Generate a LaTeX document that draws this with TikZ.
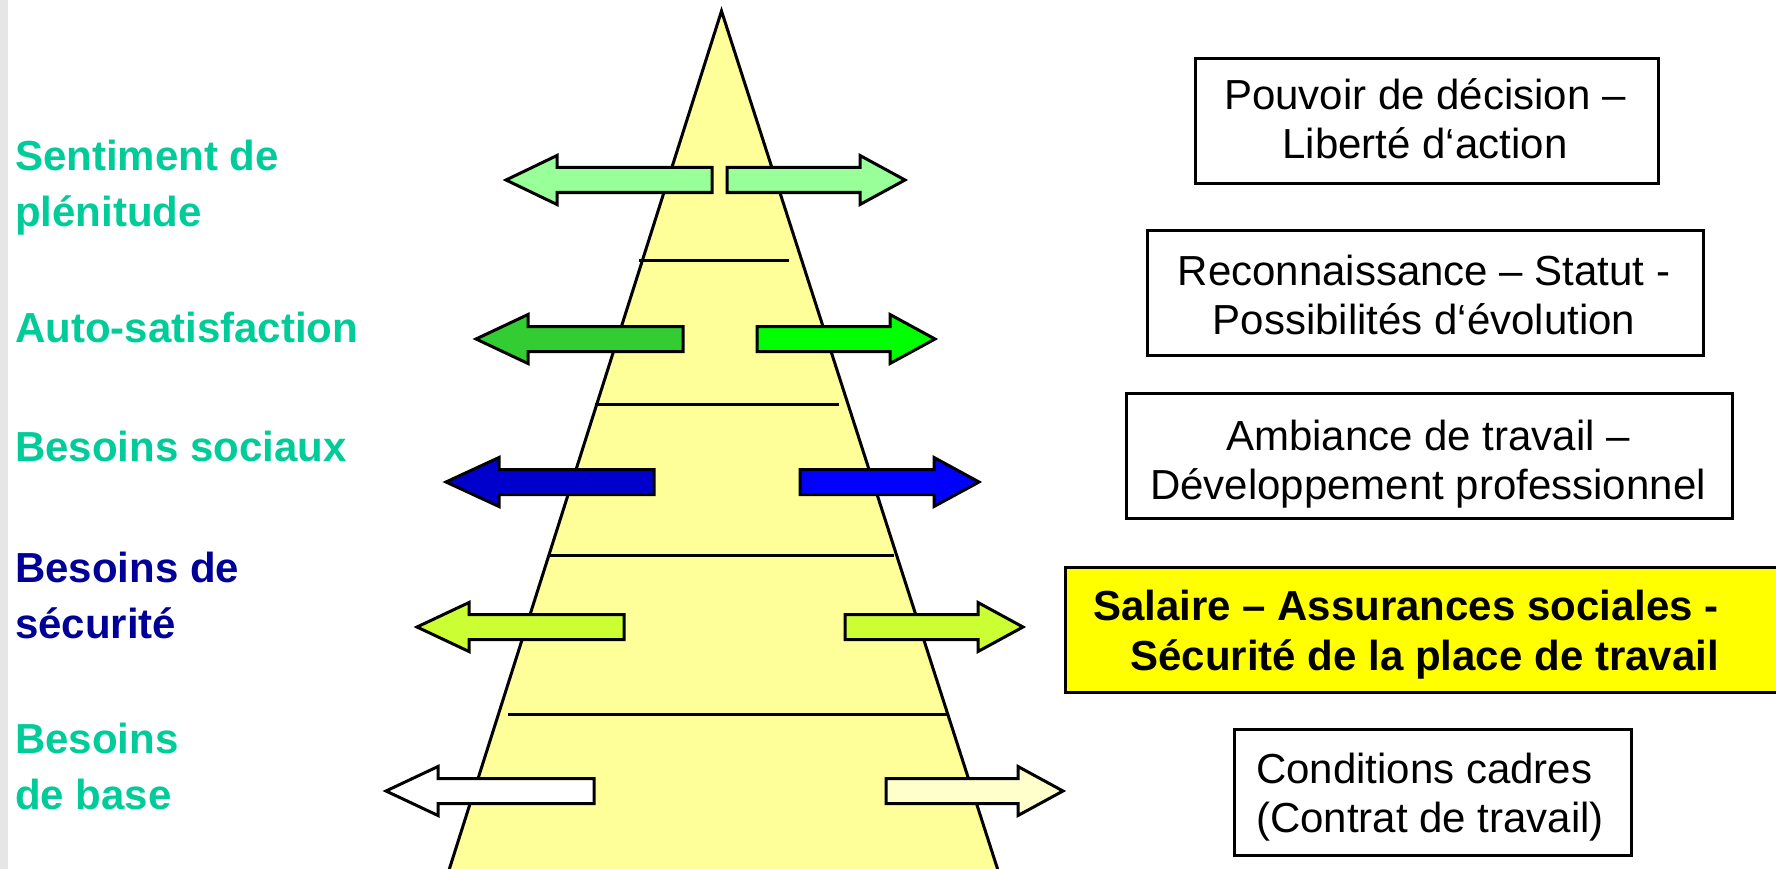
\documentclass[tikz,border=0pt]{standalone}
\usepackage{fontspec}
\setmainfont{Liberation Sans}
\definecolor{teal2}{HTML}{00CC99}
\definecolor{navy2}{HTML}{000099}
\definecolor{pyr}{HTML}{FFFF99}
\definecolor{lgreen}{HTML}{99FF99}
\definecolor{mgreen}{HTML}{33CC33}
\definecolor{bgreen}{HTML}{00FF00}
\definecolor{dblue}{HTML}{0000CC}
\definecolor{bblue}{HTML}{0000FF}
\definecolor{ygreen}{HTML}{CCFF33}
\definecolor{pyellow}{HTML}{FFFFCC}
\definecolor{pureyellow}{HTML}{FFFF00}
\definecolor{stripgray}{HTML}{E6E6E6}
\newcommand{\pyrArrow}[5]{%
  \filldraw[arrowshape, fill=#1] (#2,#5) -- (#3,#5-24.5) -- (#3,#5-12.5) -- (#4,#5-12.5)
    -- (#4,#5+12.5) -- (#3,#5+12.5) -- (#3,#5+24.5) -- cycle;}
\tikzset{
  arrowshape/.style={draw=black, line width=3pt, line join=miter},
  levelline/.style={draw=black, line width=3pt},
  boxframe/.style={draw=black, line width=3pt, rectangle, inner sep=0pt, anchor=north west},
  boxtext/.style={font=\fontsize{42}{49}\selectfont, align=center, inner sep=0pt, text=black},
  needlabel/.style={font=\fontsize{42}{56}\selectfont\bfseries, align=left, inner sep=0pt, anchor=base west, text=teal2},
}
\begin{document}
\begin{tikzpicture}[x=1pt, y=-1pt]
\useasboundingbox (0,0) rectangle (1776,869);
\fill[white] (0,0) rectangle (1776,869);
\begin{scope}
\clip (0,0) rectangle (1776,869);
\fill[stripgray] (0,0) rectangle (8,869);
% pyramid
\filldraw[fill=pyr, draw=black, line width=3pt, line join=miter] (721.5,11) -- (443,889) -- (1004,889) -- cycle;
% level lines
\draw[levelline] (639,260) -- (789,260);
\draw[levelline] (595,404) -- (839,404);
\draw[levelline] (550,555) -- (894,555);
\draw[levelline] (508,714) -- (948,714);
% arrows
\pyrArrow{lgreen}{506}{557}{712}{180}
\pyrArrow{lgreen}{905}{860}{727}{180}
\pyrArrow{mgreen}{476}{528}{683}{339}
\pyrArrow{bgreen}{935}{890}{757}{339}
\pyrArrow{dblue}{446}{499}{654}{482}
\pyrArrow{bblue}{979}{934}{800}{482}
\pyrArrow{ygreen}{417}{469}{624}{627}
\pyrArrow{ygreen}{1023}{978}{845}{627}
\pyrArrow{white}{386}{438}{594}{791}
\pyrArrow{pyellow}{1063}{1018}{886}{791}
% boxes
\node[boxframe, minimum width=463, minimum height=125] (b1) at (1194,57) {};
\node[boxframe, minimum width=556, minimum height=125] (b2) at (1146,229) {};
\node[boxframe, minimum width=606, minimum height=125] (b3) at (1125,392) {};
\node[boxframe, fill=pureyellow, minimum width=760, minimum height=125] (b4) at (1064,566) {};
\node[boxframe, minimum width=397, minimum height=126] (b5) at (1233,728) {};
\node[boxtext, anchor=base] (t1) at (1425,159) {Pouvoir de décision –\\Liberté d‘action};
\node[boxtext, anchor=base] (t2) at (1424,334) {Reconnaissance – Statut -\\ Possibilités d‘évolution};
\node[boxtext, anchor=base] (t3) at (1428,499) {Ambiance de travail –\\Développement professionnel};
\node[boxtext, anchor=base east, align=right, font=\fontsize{42}{50}\selectfont\bfseries] (t4) at (1719,670) {Salaire – Assurances sociales -\\Sécurité de la place de travail};
\node[boxtext, anchor=base west, align=left] (t5) at (1256,832) {Conditions cadres\\(Contrat de travail)};
% left labels
\node[needlabel] (l1) at (15,226) {Sentiment de\\plénitude};
\node[needlabel] (l2) at (15,342) {Auto-satisfaction};
\node[needlabel] (l3) at (15,461) {Besoins sociaux};
\node[needlabel, text=navy2] (l4) at (15,638) {Besoins de\\sécurité};
\node[needlabel] (l5) at (15,809) {Besoins\\de base};
\end{scope}
\end{tikzpicture}
\end{document}
